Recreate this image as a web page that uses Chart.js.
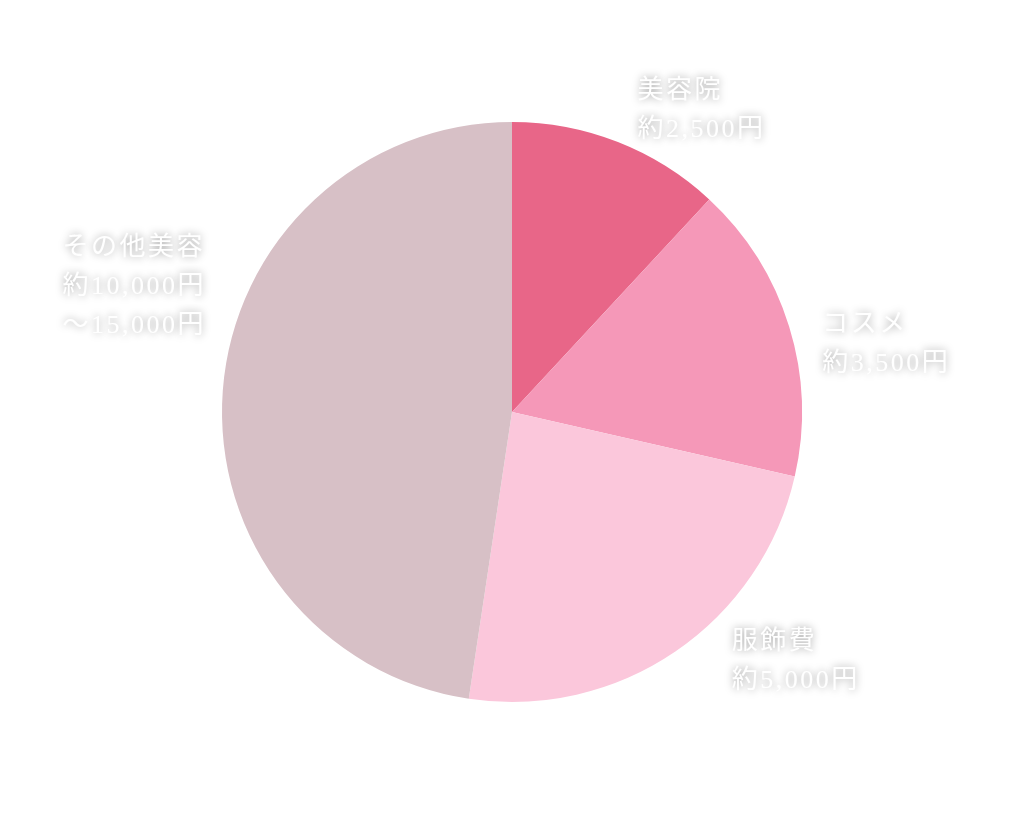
<!DOCTYPE html>
<html><head><meta charset="utf-8">
<script src="https://cdn.jsdelivr.net/npm/chart.js@4"></script>
<style>html,body{margin:0;padding:0;background:#fff;}#wrap{width:1024px;height:824px;}</style>
</head><body><div id="wrap"><canvas id="c" width="1024" height="824"></canvas></div>
<script>
const categories = ["美容院", "コスメ", "服飾費", "その他美容"];
const values = [2500, 3500, 5000, 10000];
const colors = ["#E86688", "#F598B8", "#FBC7DB", "#D7C0C6"];
const labelLines = [
  ["美容院", "約2,500円"],
  ["コスメ", "約3,500円"],
  ["服飾費", "約5,000円"],
  ["その他美容", "約10,000円", "～15,000円"]
];
// label anchors relative to pie centre, in units of radius (left x, first line centre y)
const labelAnchors = [[0.433, -1.105], [1.07, -0.30], [0.758, 0.792], [-1.55, -0.566]];

const labelPlugin = {
  id: 'labels',
  afterDraw(chart) {
    const ctx = chart.ctx;
    const meta = chart.getDatasetMeta(0);
    ctx.save();
    ctx.font = '26px "Liberation Serif", "Noto Sans CJK JP", serif';
    try { ctx.letterSpacing = '2.5px'; } catch (e) {}
    ctx.textAlign = 'left';
    ctx.textBaseline = 'middle';
    ctx.fillStyle = '#ffffff';
    ctx.shadowColor = 'rgba(0,0,0,0.4)';
    ctx.shadowBlur = 9;
    meta.data.forEach((arc, i) => {
      const r = arc.outerRadius;
      const x = arc.x + labelAnchors[i][0] * r;
      const y = arc.y + labelAnchors[i][1] * r;
      labelLines[i].forEach((t, j) => {
        ctx.fillText(t, x, y + j * 39);
      });
    });
    ctx.restore();
  }
};

new Chart(document.getElementById('c'), {
  type: 'pie',
  data: {
    labels: categories,
    datasets: [{ data: values, backgroundColor: colors, borderWidth: 0 }]
  },
  options: {
    responsive: false,
    animation: false,
    layout: { padding: { top: 122, bottom: 122, left: 0, right: 0 } },
    plugins: { legend: { display: false }, tooltip: { enabled: false } }
  },
  plugins: [labelPlugin]
});
</script>
</body></html>
